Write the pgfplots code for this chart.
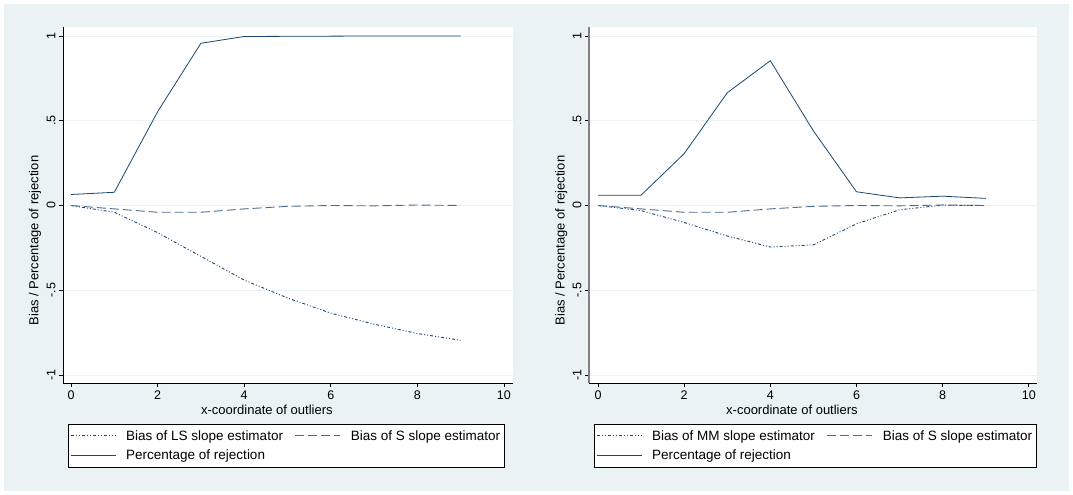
\documentclass[border=0pt]{standalone}
\usepackage{pgfplots}
\pgfplotsset{compat=1.18}
\usepackage{fontspec}
\setmainfont{Liberation Sans}
\definecolor{bgc}{HTML}{EAF2F3}
\definecolor{navy}{HTML}{1A476F}
\definecolor{sline}{HTML}{4A6C8F}

\pgfplotsset{
  stpanel/.style={
    scale only axis, width=450pt, height=356pt,
    ymin=-1.047, ymax=1.053,
    axis x line*=bottom, axis y line*=left,
    axis line style={black, line width=0.9pt},
    axis background/.style={fill=white},
    tick align=outside, major tick length=4pt,
    tick style={black, line width=0.8pt},
    xtick={0,2,4,6,8,10},
    ytick={-1,-0.5,0,0.5,1},
    yticklabels={-1,-.5,0,.5,1},
    ymajorgrids, grid style={bgc, line width=0.9pt},
    /pgf/number format/assume math mode=true,
    font=\fontsize{12.5}{14}\selectfont,
    yticklabel style={rotate=90, anchor=south},
    xlabel={x-coordinate of outliers},
    ylabel={Bias / Percentage of rejection},
    xlabel style={at={(axis description cs:0.453,-0.076)}, anchor=center,
      font=\fontsize{13}{15}\selectfont},
    ylabel style={at={(axis description cs:-0.062,0.40)}, anchor=center,
      font=\fontsize{13}{15}\selectfont},
    legend columns=2,
    legend cell align=left,
    legend image code/.code={\draw[#1] (0pt,0pt) -- (45pt,0pt);},
    legend style={at={(axis description cs:0.011,-0.115)}, anchor=north west,
      draw=black, line width=0.7pt, fill=white, inner xsep=2pt, inner ysep=4pt,
      font=\fontsize{13.5}{15}\selectfont,
      /tikz/every odd column/.append style={column sep=8pt},
      /tikz/every even column/.append style={column sep=10pt},
      row sep=4pt},
  },
  lsst/.style={navy, line width=0.9pt, dash pattern=on 3pt off 2pt on 1pt off 2pt on 1pt off 2pt},
  sst/.style={sline, line width=0.9pt, dash pattern=on 9pt off 4pt},
  rst/.style={navy, line width=0.8pt},
}

\begin{document}
\begin{tikzpicture}[x=1pt,y=1pt]
\useasboundingbox (0,0) rectangle (1073,495);
\fill[bgc] (4,4) rectangle (1069,491);

% left panel: LS estimator
\begin{axis}[stpanel, at={(63pt,112pt)}, anchor=south west,
    xmin=-0.185, xmax=10.21]
\addplot[lsst] coordinates {
  (0,0) (1,-0.04) (2,-0.16) (3,-0.30) (4,-0.44) (5,-0.545)
  (6,-0.635) (7,-0.70) (8,-0.755) (9,-0.795)};
\addlegendentry{Bias of LS slope estimator}
\addplot[sst] coordinates {
  (0,0) (1,-0.02) (2,-0.04) (3,-0.04) (4,-0.02) (5,-0.005)
  (6,0) (7,-0.002) (8,0.003) (9,0)};
\addlegendentry{Bias of S slope estimator}
\addplot[rst] coordinates {
  (0,0.065) (1,0.078) (2,0.553) (3,0.957) (4,0.997) (5,0.998)
  (6,0.999) (7,1) (8,1) (9,1)};
\addlegendentry{Percentage of rejection}
\end{axis}

% right panel: MM estimator
\begin{axis}[stpanel, at={(589pt,112pt)}, anchor=south west,
    width=448pt, xmin=-0.209, xmax=10.19,
    y axis line style={gray, line width=1.3pt}]
\addplot[lsst] coordinates {
  (0,0) (1,-0.03) (2,-0.10) (3,-0.18) (4,-0.245) (5,-0.232)
  (6,-0.108) (7,-0.025) (8,0.002) (9,0)};
\addlegendentry{Bias of MM slope estimator}
\addplot[sst] coordinates {
  (0,0) (1,-0.02) (2,-0.04) (3,-0.04) (4,-0.02) (5,-0.005)
  (6,0) (7,-0.002) (8,0.003) (9,0)};
\addlegendentry{Bias of S slope estimator}
\addplot[rst] coordinates {
  (0,0.061) (1,0.061) (2,0.306) (3,0.665) (4,0.854) (5,0.44)
  (6,0.081) (7,0.045) (8,0.055) (9,0.042)};
\addlegendentry{Percentage of rejection}
\end{axis}
\end{tikzpicture}
\end{document}
